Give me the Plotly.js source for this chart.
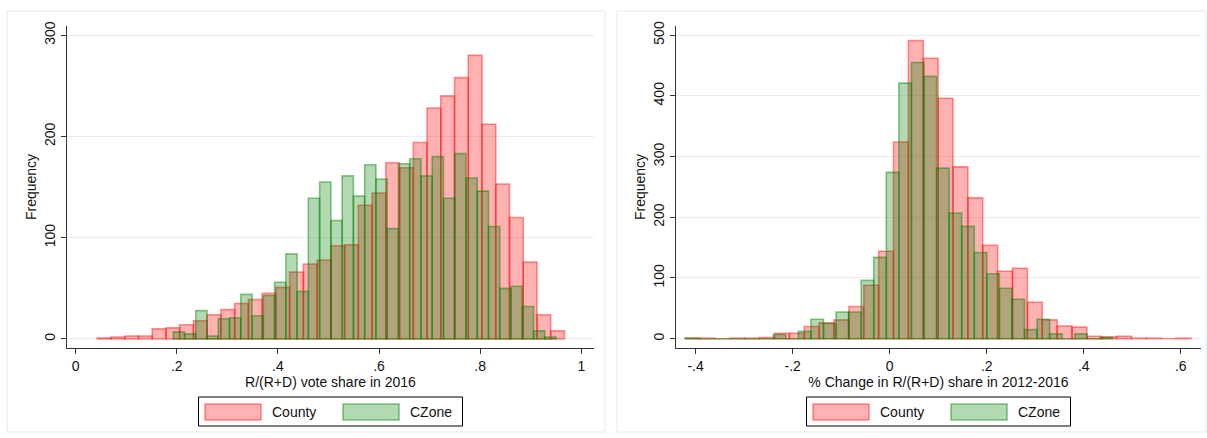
<!DOCTYPE html>
<html><head><meta charset="utf-8">
<script src="https://cdn.plot.ly/plotly-3.0.1.min.js"></script>
<style>html,body{margin:0;padding:0;background:#fff}#chart{width:1207px;height:438px}</style>
</head><body><div id="chart"></div>
<script>
// ---- data ----
const seriesNames = ['County', 'CZone'];

// Left panel: R/(R+D) vote share in 2016 (histogram bins: start, width, counts)
const shareCountyStart = 0.0428, shareCountyWidth = 0.02717;
const shareCounty = [1, 2, 3, 3, 10, 11, 14, 18, 24, 29, 35, 39, 45, 51, 66, 74, 78, 92, 93, 132, 144, 174, 169, 194, 228, 240, 258, 280, 212, 153, 120, 76, 24, 8];
const shareCZoneStart = 0.1931, shareCZoneWidth = 0.02226;
const shareCZone = [7, 5, 28, 3, 20, 21, 44, 23, 43, 56, 84, 47, 139, 155, 117, 161, 141, 172, 158, 109, 173, 178, 161, 180, 139, 183, 159, 146, 111, 50, 52, 32, 8, 2];

// Right panel: % Change in R/(R+D) share in 2012-2016
const changeCountyStart = -0.4212, changeCountyWidth = 0.03065;
const changeCounty = [1, 1, 0, 1, 1, 2, 9, 9, 20, 26, 31, 53, 88, 144, 324, 491, 462, 396, 283, 232, 154, 111, 116, 60, 31, 21, 19, 4, 3, 4, 1, 1, 0, 1];
const changeCZoneStart = -0.4212, changeCZoneWidth = 0.02589;
const changeCZone = [1, 0, 0, 0, 0, 0, 0, 7, 0, 12, 32, 25, 44, 44, 96, 134, 274, 421, 455, 432, 281, 207, 185, 142, 107, 83, 65, 15, 32, 8, 0, 8, 0, 2];

const leftTickVals = [0, 0.2, 0.4, 0.6, 0.8, 1];
const leftTickText = ['0', '.2', '.4', '.6', '.8', '1'];
const rightTickVals = [-0.4, -0.2, 0, 0.2, 0.4, 0.6];
const rightTickText = ['-.4', '-.2', '0', '.2', '.4', '.6'];
const leftYTicks = [0, 100, 200, 300];
const rightYTicks = [0, 100, 200, 300, 400, 500];
const leftXTitle = 'R/(R+D) vote share in 2016';
const rightXTitle = '% Change in R/(R+D) share in 2012-2016';
const yTitle = 'Frequency';

// ---- styles ----
const W = 1207, H = 438;
const fills = ['rgba(255,0,0,0.30)', 'rgba(0,128,0,0.30)'];
const lines = ['rgba(255,0,0,0.42)', 'rgba(0,128,0,0.45)'];
const FONT = 'Liberation Sans, Arial, Helvetica, sans-serif';
const px = v => v / W, py = v => 1 - v / H;

function histTrace(start, width, counts, s, xa, ya) {
  const x = counts.map((_, i) => start + width * (i + 0.5));
  return {
    type: 'bar', x: x, y: counts, width: counts.map(() => width),
    name: seriesNames[s], xaxis: xa, yaxis: ya, showlegend: false,
    marker: { color: fills[s], line: { color: lines[s], width: 1.6 } },
    hoverinfo: 'x+y'
  };
}

const data = [
  histTrace(shareCountyStart, shareCountyWidth, shareCounty, 0, 'x', 'y'),
  histTrace(shareCZoneStart, shareCZoneWidth, shareCZone, 1, 'x', 'y'),
  histTrace(changeCountyStart, changeCountyWidth, changeCounty, 0, 'x2', 'y2'),
  histTrace(changeCZoneStart, changeCZoneWidth, changeCZone, 1, 'x2', 'y2')
];

const xDom1 = [px(67), px(594)], xDom2 = [px(676), px(1201)];
const yDom = [py(348), py(26)];

function xAxis(dom, range, vals, text, title) {
  return {
    domain: dom, range: range, tickvals: vals, ticktext: text,
    showgrid: false, zeroline: false, showline: true, linecolor: '#333', linewidth: 1,
    ticks: 'outside', ticklen: 5, tickcolor: '#333', tickfont: { size: 14, color: '#111', family: FONT },
    title: { text: title, font: { size: 14, color: '#111', family: FONT }, standoff: 3 },
    automargin: false, fixedrange: true
  };
}
function yAxis(anchor, range, vals) {
  return {
    domain: yDom, range: range, tickvals: vals, anchor: anchor,
    showgrid: true, gridcolor: '#e7eef0', gridwidth: 1, zeroline: false,
    showline: true, linecolor: '#333', linewidth: 1,
    ticks: 'outside', ticklen: 5, tickcolor: '#333', tickangle: -90,
    tickfont: { size: 14, color: '#111', family: FONT },
    title: { text: yTitle, font: { size: 14, color: '#111', family: FONT }, standoff: 2 },
    automargin: false, fixedrange: true
  };
}

const shapes = [
  { type: 'rect', xref: 'paper', yref: 'paper', x0: px(7), x1: px(605), y0: py(432), y1: py(11), line: { color: '#e2eaed', width: 1 }, layer: 'below' },
  { type: 'rect', xref: 'paper', yref: 'paper', x0: px(617), x1: px(1206), y0: py(432), y1: py(11), line: { color: '#e2eaed', width: 1 }, layer: 'below' }
];
const annotations = [];

function addLegend(dom) {
  const cx = (dom[0] + dom[1]) / 2 * W;
  const bx0 = cx - 132, bx1 = cx + 132, by0 = 397, by1 = 426;
  shapes.push({ type: 'rect', xref: 'paper', yref: 'paper', x0: px(bx0), x1: px(bx1), y0: py(by1), y1: py(by0), line: { color: '#000', width: 1 }, fillcolor: '#fff' });
  seriesNames.forEach((nm, s) => {
    const sx = bx0 + 6.5 + s * 138;
    shapes.push({ type: 'rect', xref: 'paper', yref: 'paper', x0: px(sx), x1: px(sx + 56), y0: py(420), y1: py(404), fillcolor: fills[s], line: { color: lines[s], width: 1.6 } });
    annotations.push({ xref: 'paper', yref: 'paper', x: px(sx + 65), y: py(412), xanchor: 'left', yanchor: 'middle', text: nm, showarrow: false, font: { size: 14, color: '#111', family: FONT } });
  });
}
addLegend(xDom1);
addLegend(xDom2);

const layout = {
  width: W, height: H, margin: { l: 0, r: 0, t: 0, b: 0 },
  paper_bgcolor: '#fff', plot_bgcolor: '#fff',
  barmode: 'overlay', bargap: 0, showlegend: false,
  font: { family: FONT, color: '#111' },
  xaxis: Object.assign(xAxis(xDom1, [-0.017, 1.025], leftTickVals, leftTickText, leftXTitle), { anchor: 'y' }),
  yaxis: yAxis('x', [-8.9, 309], leftYTicks),
  xaxis2: Object.assign(xAxis(xDom2, [-0.4404, 0.6416], rightTickVals, rightTickText, rightXTitle), { anchor: 'y2' }),
  yaxis2: yAxis('x2', [-15.3, 515], rightYTicks),
  shapes: shapes, annotations: annotations
};

Plotly.newPlot('chart', data, layout, { displayModeBar: false, staticPlot: true });
</script>
</body></html>
